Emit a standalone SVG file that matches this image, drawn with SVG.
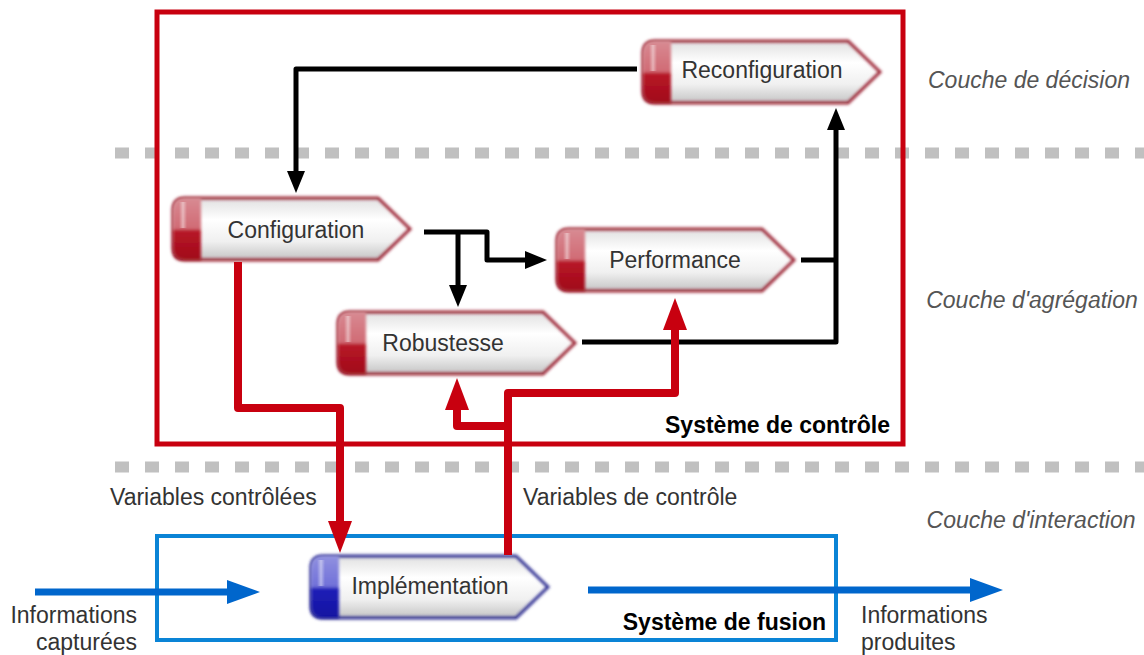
<svg xmlns="http://www.w3.org/2000/svg" width="1144" height="655" viewBox="0 0 1144 655">
<style>
.lbl{font-family:"Liberation Sans",Arial,sans-serif;font-size:23px;fill:#333}
.layer{font-family:"Liberation Sans",Arial,sans-serif;font-size:23px;font-style:italic;fill:#555}
.sys{font-family:"Liberation Sans",Arial,sans-serif;font-size:23px;font-weight:bold;fill:#000}
.blk{fill:none;stroke:#000;stroke-width:5;stroke-linejoin:round}
.red{fill:none;stroke:#c8000f;stroke-width:8;stroke-linejoin:round}
.blu{fill:none;stroke:#0066cc;stroke-width:7}
.dash{stroke:#c0c0c0;stroke-width:11;stroke-dasharray:14 16}
</style>
<defs>
<linearGradient id="body" x1="0" y1="0" x2="0" y2="1">
<stop offset="0" stop-color="#e0e0e0"/><stop offset="0.35" stop-color="#ffffff"/><stop offset="0.7" stop-color="#f0f0f0"/><stop offset="1" stop-color="#c4c4c4"/>
</linearGradient>
<linearGradient id="capR" x1="0" y1="0" x2="0" y2="1">
<stop offset="0" stop-color="#d88a92"/><stop offset="0.5" stop-color="#d06a74"/><stop offset="0.52" stop-color="#b81828"/><stop offset="1" stop-color="#a00818"/>
</linearGradient>
<linearGradient id="capB" x1="0" y1="0" x2="0" y2="1">
<stop offset="0" stop-color="#9090e0"/><stop offset="0.5" stop-color="#7070d8"/><stop offset="0.52" stop-color="#2020b8"/><stop offset="1" stop-color="#1010a0"/>
</linearGradient>
<linearGradient id="hl" x1="0" y1="0" x2="1" y2="0">
<stop offset="0" stop-color="#fff" stop-opacity="0"/><stop offset="0.5" stop-color="#fff" stop-opacity="0.45"/><stop offset="1" stop-color="#fff" stop-opacity="0"/>
</linearGradient>
<filter id="blur" x="-10%" y="-20%" width="120%" height="140%"><feGaussianBlur stdDeviation="1.5"/></filter>
<path id="shape" d="M12,0 H205 L237,31 L205,62 H12 Q0,62 0,50 V12 Q0,0 12,0 Z"/>
<path id="cap" d="M12,0 H28 V62 H12 Q0,62 0,50 V12 Q0,0 12,0 Z"/>
<marker id="ahK" markerUnits="userSpaceOnUse" markerWidth="22" markerHeight="18" refX="0" refY="9" orient="auto"><path d="M0,0 L22,9 L0,18 Z" fill="#000"/></marker>
<marker id="ahR" markerUnits="userSpaceOnUse" markerWidth="32" markerHeight="24" refX="0" refY="12" orient="auto"><path d="M0,0 L32,12 L0,24 Z" fill="#c8000f"/></marker>
<marker id="ahB" markerUnits="userSpaceOnUse" markerWidth="33" markerHeight="24" refX="0" refY="12" orient="auto"><path d="M0,0 L33,12 L0,24 Z" fill="#0066cc"/></marker>
</defs>
<rect width="1144" height="655" fill="#fff"/>
<g id="layers">
<line class="dash" x1="115" y1="153" x2="1144" y2="153"/>
<line class="dash" x1="115" y1="467" x2="1144" y2="467"/>
<text class="layer" x="1029" y="88" text-anchor="middle">Couche de décision</text>
<text class="layer" x="1032" y="308" text-anchor="middle">Couche d'agrégation</text>
<text class="layer" x="1031" y="528" text-anchor="middle">Couche d'interaction</text>
</g>
<g id="controle">
<rect x="157" y="12" width="746" height="432" fill="none" stroke="#c8000f" stroke-width="5"/>
<text class="sys" x="890" y="433" text-anchor="end">Système de contrôle</text>
</g>
<g id="fusion">
<rect x="157" y="536" width="679" height="104" fill="none" stroke="#0a84d6" stroke-width="4"/>
<text class="sys" x="826" y="630" text-anchor="end">Système de fusion</text>
</g>
<g id="reconfiguration" transform="translate(643,41)">
<use href="#shape" fill="url(#body)"/>
<use href="#shape" fill="none" stroke="#9a2030" stroke-width="3" filter="url(#blur)"/>
<use href="#cap" fill="url(#capR)" filter="url(#blur)"/>
<rect x="6" y="4" width="8" height="26" fill="url(#hl)"/>
<text class="lbl" x="119" y="37" text-anchor="middle">Reconfiguration</text>
</g>
<g id="configuration" transform="translate(173,198)">
<use href="#shape" fill="url(#body)"/>
<use href="#shape" fill="none" stroke="#9a2030" stroke-width="3" filter="url(#blur)"/>
<use href="#cap" fill="url(#capR)" filter="url(#blur)"/>
<rect x="6" y="4" width="8" height="26" fill="url(#hl)"/>
<text class="lbl" x="123" y="40" text-anchor="middle">Configuration</text>
</g>
<g id="performance" transform="translate(557,229)">
<use href="#shape" fill="url(#body)"/>
<use href="#shape" fill="none" stroke="#9a2030" stroke-width="3" filter="url(#blur)"/>
<use href="#cap" fill="url(#capR)" filter="url(#blur)"/>
<rect x="6" y="4" width="8" height="26" fill="url(#hl)"/>
<text class="lbl" x="118" y="39" text-anchor="middle">Performance</text>
</g>
<g id="robustesse" transform="translate(338,312)">
<use href="#shape" fill="url(#body)"/>
<use href="#shape" fill="none" stroke="#9a2030" stroke-width="3" filter="url(#blur)"/>
<use href="#cap" fill="url(#capR)" filter="url(#blur)"/>
<rect x="6" y="4" width="8" height="26" fill="url(#hl)"/>
<text class="lbl" x="105" y="39" text-anchor="middle">Robustesse</text>
</g>
<g id="implementation" transform="translate(311,556)">
<use href="#shape" fill="url(#body)"/>
<use href="#shape" fill="none" stroke="#2a2a90" stroke-width="3" filter="url(#blur)"/>
<use href="#cap" fill="url(#capB)" filter="url(#blur)"/>
<rect x="6" y="4" width="8" height="26" fill="url(#hl)"/>
<text class="lbl" x="119" y="38" text-anchor="middle">Implémentation</text>
</g>
<g id="connectors">
<path class="blk" d="M637,69 H296 V171" marker-end="url(#ahK)"/>
<path class="blk" d="M424,232 H487 V260 H525" marker-end="url(#ahK)"/>
<path class="blk" d="M458,232 V285" marker-end="url(#ahK)"/>
<path class="blk" d="M801,260 H836"/>
<path class="blk" d="M582,342 H836 V130" marker-end="url(#ahK)"/>
<path class="red" d="M238,262 V408 H340 V521" marker-end="url(#ahR)"/>
<path class="red" d="M508,555 V393 H675 V330" marker-end="url(#ahR)"/>
<path class="red" d="M508,426 H457 V410" marker-end="url(#ahR)"/>
<path class="blu" d="M35,592 H227" marker-end="url(#ahB)"/>
<path class="blu" d="M588,590 H970" marker-end="url(#ahB)"/>
</g>
<g id="labels">
<text class="lbl" x="110" y="505">Variables contrôlées</text>
<text class="lbl" x="523" y="505">Variables de contrôle</text>
<text class="lbl" x="137" y="623" text-anchor="end">Informations</text>
<text class="lbl" x="137" y="650" text-anchor="end">capturées</text>
<text class="lbl" x="861" y="623">Informations</text>
<text class="lbl" x="861" y="650">produites</text>
</g>
</svg>
